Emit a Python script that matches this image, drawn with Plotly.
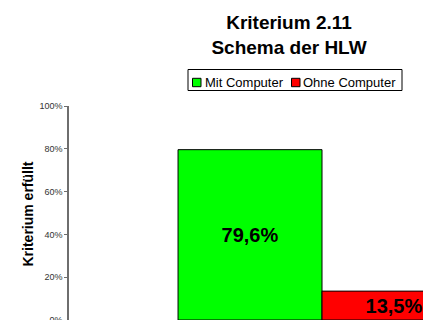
import plotly.graph_objects as go

# Data
category = ["Schema der HLW"]
series_names = ["Mit Computer", "Ohne Computer"]
series_values = [[0.796], [0.135]]
series_colors = ["#00FF00", "#FF0000"]
y_ticks = [0, 0.2, 0.4, 0.6, 0.8, 1.0]

FONT = "Liberation Sans, Arial, sans-serif"
W, H = 423, 320
L, R, T, B = 69, 0, 106, 0
PW, PH = W - L - R, H - T - B


def px(x):
    return (x - L) / PW


def py(y):
    return (H - B - y) / PH


fig = go.Figure()
for name, vals, col in zip(series_names, series_values, series_colors):
    fig.add_trace(go.Bar(
        x=category, y=vals, name=name,
        marker=dict(color=col, line=dict(color="#000000", width=1)),
        texttemplate="%{y:.1%}", textposition="inside",
        insidetextanchor="middle", constraintext="none",
        textfont=dict(family=FONT, size=20, color="#000000", weight=700),
        showlegend=False,
    ))

# Legend box drawn as shapes + labels
shapes = [
    dict(type="rect", xref="paper", yref="paper",
         x0=px(188), x1=px(402), y0=py(90.5), y1=py(69.5),
         line=dict(color="#000000", width=1), fillcolor="#FFFFFF", layer="above"),
]
legend_items = [(192.5, 201, 204), (291.5, 300, 302)]
annotations = []
for (sx0, sx1, tx), name, col in zip(legend_items, series_names, series_colors):
    shapes.append(dict(type="rect", xref="paper", yref="paper",
                       x0=px(sx0), x1=px(sx1), y0=py(86.7), y1=py(78.3),
                       line=dict(color="#000000", width=1), fillcolor=col, layer="above"))
    annotations.append(dict(text=name, xref="paper", yref="paper",
                            x=px(tx), y=py(82), xanchor="left", yanchor="middle",
                            showarrow=False, borderpad=0,
                            font=dict(family=FONT, size=13, color="#000000")))

annotations.append(dict(text="Kriterium erfüllt", xref="paper", yref="paper",
                        x=px(27.5), y=py(214), xanchor="center", yanchor="middle",
                        textangle=-90, showarrow=False,
                        font=dict(family=FONT, size=14, color="#000000", weight=700)))

fig.update_layout(
    width=W, height=H,
    margin=dict(l=L, r=R, t=T, b=B, pad=0, autoexpand=False),
    paper_bgcolor="#FFFFFF", plot_bgcolor="#FFFFFF",
    separators=",.",
    barmode="group", bargap=0.431, bargroupgap=0,
    title=dict(text="Kriterium 2.11<br>Schema der HLW",
               xref="container", yref="container",
               x=289 / W, y=1 - 29.2 / H, xanchor="center", yanchor="middle",
               font=dict(family=FONT, size=19, color="#000000", weight=700)),
    xaxis=dict(range=[-0.5, 0.1996], showticklabels=False, showline=False,
               showgrid=False, zeroline=False, ticks="", automargin=False),
    yaxis=dict(range=[0, 1], tickvals=y_ticks, tickformat=".0%",
               showline=True, linecolor="#6e6e6e", linewidth=1.5,
               ticks="outside", ticklen=3, tickcolor="#6e6e6e", tickwidth=1,
               tickfont=dict(family=FONT, size=9, color="#333333"),
               ticklabeloverflow="allow", automargin=False,
               showgrid=False, zeroline=False),
    shapes=shapes,
    annotations=annotations,
)

fig.write_html("out.html")
